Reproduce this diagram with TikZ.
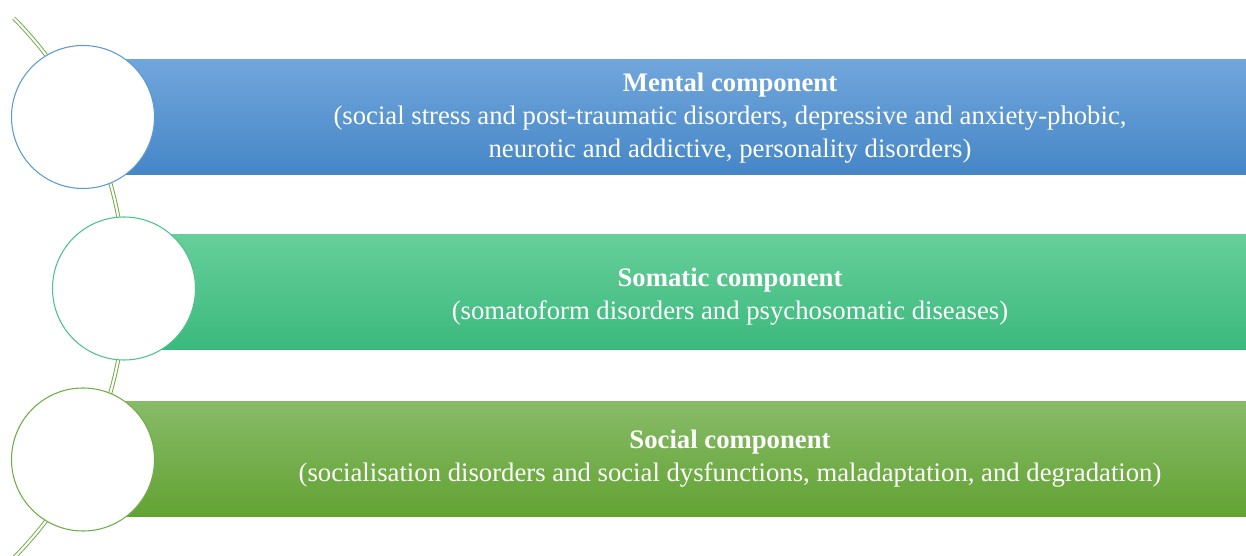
\documentclass[tikz,border=0pt]{standalone}
\usepackage{fontspec}
\setmainfont{Liberation Serif}
\usepackage{tikz}
\definecolor{mentaltop}{RGB}{113,166,219}
\definecolor{mentalbot}{RGB}{69,134,199}
\definecolor{mentalline}{RGB}{91,155,213}
\definecolor{somatop}{RGB}{102,206,154}
\definecolor{somabot}{RGB}{59,185,125}
\definecolor{somaline}{RGB}{77,195,140}
\definecolor{socialtop}{RGB}{136,187,104}
\definecolor{socialbot}{RGB}{98,162,50}
\definecolor{socialline}{RGB}{112,173,71}

\tikzset{
  ring/.style={circle, draw, line width=0.6pt, fill=white, minimum size=2.86cm, inner sep=0pt},
  bandtext/.style={text=white, align=center, font=\fontsize{15.2}{18.9}\selectfont}
}

\begin{document}
\begin{tikzpicture}
\useasboundingbox (0,0) rectangle (24.92,11.12);
% long double arc running behind the circles
\coordinate (hub) at (-5.16,5.36);
\draw[socialline, line width=0.55pt, double=white, double distance=1.2pt]
  ([shift={(44.8:7.66)}]hub) arc[start angle=44.8, end angle=-47, radius=7.66];
% shaded bands
\shade[top color=mentaltop, bottom color=mentalbot] (2.4,7.62) rectangle (24.92,9.92);
\shade[top color=somatop, bottom color=somabot] (3.2,4.12) rectangle (24.92,6.42);
\shade[top color=socialtop, bottom color=socialbot] (2.4,0.78) rectangle (24.92,3.08);
% circles
\node[ring, draw=mentalline] (mental) at (1.66,8.78) {};
\node[ring, draw=somaline] (somatic) at (2.48,5.35) {};
\node[ring, draw=socialline] (social) at (1.66,1.93) {};
% texts
\node[bandtext] (mentaltext) at (14.6,8.76) {\textbf{Mental component}\\
  (social stress and post-traumatic disorders, depressive and anxiety-phobic,\\
  neurotic and addictive, personality disorders)};
\node[bandtext] (somatictext) at (14.6,5.18) {\textbf{Somatic component}\\
  (somatoform disorders and psychosomatic diseases)};
\node[bandtext] (socialtext) at (14.6,1.94) {\textbf{Social component}\\
  (socialisation disorders and social dysfunctions, maladaptation, and degradation)};
\end{tikzpicture}
\end{document}
